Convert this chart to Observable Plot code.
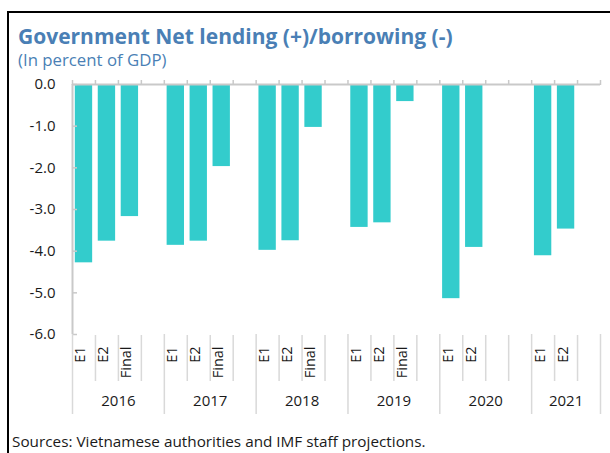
<!DOCTYPE html>
<html>
<head>
<meta charset="utf-8">
<script src="https://cdn.jsdelivr.net/npm/d3@7"></script>
<script src="https://cdn.jsdelivr.net/npm/@observablehq/plot@0.6"></script>
<style>
  html, body { margin: 0; padding: 0; background: #fff; }
  #wrap { position: relative; width: 610px; height: 453px; overflow: hidden; font-family: "Open Sans", sans-serif; }
  #border { position: absolute; left: 7px; top: 11px; width: 640px; height: 480px; border-left: 2px solid #000; border-top: 2px solid #000; }
  #title { position: absolute; left: 18px; top: 23px; font-size: 21px; font-weight: bold; color: #4a7fb5; line-height: 26px; white-space: nowrap; }
  #subtitle { position: absolute; left: 18px; top: 49px; font-size: 16.8px; color: #4a7fb5; line-height: 22px; white-space: nowrap; }
  #chart { position: absolute; left: 0; top: 70px; }
  #caption { position: absolute; left: 12px; top: 431px; font-size: 15.3px; color: #1a1a1a; line-height: 20px; white-space: nowrap; }
</style>
</head>
<body>
<div id="wrap">
  <div id="border"></div>
  <div id="title">Government Net lending (+)/borrowing (-)</div>
  <div id="subtitle">(In percent of GDP)</div>
  <div id="chart"></div>
  <div id="caption">Sources: Vietnamese authorities and IMF staff projections.</div>
</div>
<script>
// ---- data ----
const years = ["2016", "2017", "2018", "2019", "2020", "2021"];
const seriesLabels = ["E1", "E2", "Final"];
const e1Values = [-4.28, -3.86, -3.98, -3.43, -5.14, -4.11];
const e2Values = [-3.76, -3.76, -3.75, -3.32, -3.91, -3.47];
const finalValues = [-3.17, -1.97, -1.03, -0.41, null, null];
const slotsPerYear = [4, 4, 4, 4, 4, 3];
const yTicks = [0, -1, -2, -3, -4, -5, -6];

// ---- build slot table ----
const seriesValues = [e1Values, e2Values, finalValues];
const bars = [];
const groups = [];
const innerBounds = [];
const groupBounds = [];
let pos = 0;
years.forEach((yr, yi) => {
  const n = slotsPerYear[yi];
  groups.push({year: yr, center: pos + n / 2});
  groupBounds.push(pos);
  for (let k = 1; k < n; k++) innerBounds.push(pos + k);
  seriesLabels.forEach((lab, si) => {
    const v = seriesValues[si][yi];
    if (v != null && si < n) bars.push({i: pos + si, label: lab, value: v, year: yr});
  });
  pos += n;
});
groupBounds.push(pos);
const totalSlots = pos;

const gray = "#c9c9c9";
const light = "#d9d9d9";

const chart = Plot.plot({
  width: 610,
  height: 360,
  marginLeft: 72,
  marginRight: 10,
  marginTop: 14,
  marginBottom: 96,
  style: {fontFamily: "'Open Sans', sans-serif", fontSize: "14px", color: "#1a1a1a", background: "transparent", overflow: "visible"},
  x: {domain: [0, totalSlots]},
  y: {domain: [-6, 0]},
  marks: [
    Plot.rectY(bars, {x1: d => d.i, x2: d => d.i + 1, y1: 0, y2: d => d.value, insetLeft: 2.8, insetRight: 2.8, fill: "#33cccc"}),
    // y axis line
    Plot.ruleX([0], {y1: -6, y2: 0, stroke: gray, strokeWidth: 2}),
    // inward y ticks
    Plot.ruleY(yTicks, {y: d => d, x1: 0, x2: 0, insetRight: -5, stroke: gray, strokeWidth: 1.5}),
    // zero line
    Plot.ruleY([0], {x1: 0, x2: totalSlots, stroke: gray, strokeWidth: 2}),
    Plot.axisY({ticks: yTicks, tickFormat: d => d.toFixed(1), tickSize: 0, tickPadding: 17, fontSize: 15}),
    // top category ticks
    Plot.axisX({anchor: "top", ticks: d3.range(0, totalSlots + 1), tickSize: 5, tickFormat: () => "", stroke: gray, strokeWidth: 1.5}),
    // bottom separators
    Plot.axisX({anchor: "bottom", ticks: innerBounds, tickSize: 46, tickFormat: () => "", stroke: light, strokeWidth: 1.5, dy: 1}),
    Plot.axisX({anchor: "bottom", ticks: groupBounds, tickSize: 80, tickFormat: () => "", stroke: light, strokeWidth: 1.5, dy: 0}),
    // series labels (rotated)
    Plot.text(bars, {x: d => d.i + 0.5, text: d => d.label, frameAnchor: "bottom", rotate: -90, textAnchor: "end", dy: 12, dx: 1.5, fontSize: 14.5}),
    // year labels
    Plot.text(groups, {x: d => d.center, text: d => d.year, frameAnchor: "bottom", dy: 71, fontSize: 15})
  ]
});
document.getElementById("chart").appendChild(chart);
</script>
</body>
</html>
